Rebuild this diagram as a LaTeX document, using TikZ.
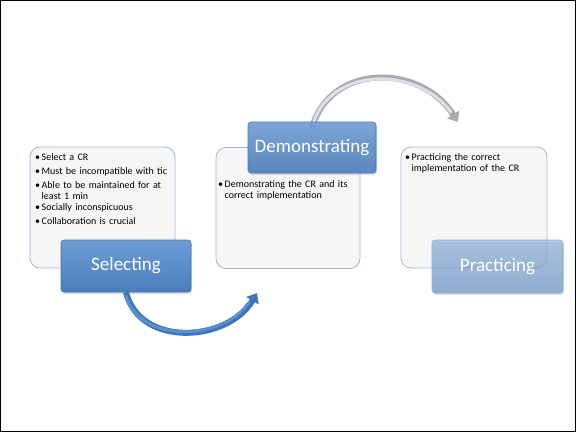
\documentclass[tikz,border=0pt]{standalone}
\usepackage{fontspec}
\setmainfont{Carlito}
\usetikzlibrary{arrows.meta,shadows}
\definecolor{panelline}{HTML}{9DB9DD}
\definecolor{panelfill}{HTML}{F6F6F6}
\definecolor{tabtop}{HTML}{6E9DD4}
\definecolor{tabbot}{HTML}{4A7DBB}
\definecolor{tabline}{HTML}{4675AE}
\definecolor{arrowblue}{HTML}{5A8FD0}
\definecolor{arrowdark}{HTML}{3F74B8}
\definecolor{arrowgray}{HTML}{DDE1E6}
\definecolor{arrowgraydark}{HTML}{A5ABB3}
% one bulleted line block with a hanging indent
\newcommand{\bulletitem}[1]{\par\vskip2.5pt\noindent
  \makebox[6.5pt][l]{\textbullet}\parbox[t]{140pt}{\raggedright #1}}
\tikzset{
  panel/.style={draw=panelline, line width=0.8pt, fill=panelfill, rounded corners=10pt,
    minimum width=#1, minimum height=121pt, inner sep=0pt},
  tab/.style={draw=tabline, line width=0.6pt, rounded corners=3pt, top color=tabtop,
    bottom color=tabbot, text=white, font=\fontsize{19}{22}\selectfont,
    inner sep=0pt, minimum height=52pt,
    drop shadow={shadow xshift=1pt, shadow yshift=-2pt, opacity=0.25}},
  notes/.style={anchor=north west, inner sep=0pt, text width=150pt, align=left,
    font=\fontsize{10}{11.5}\selectfont},
  bluearrow/.style={line width=6pt, arrowdark, -{Triangle[length=9pt,width=14pt]}},
  bluecore/.style={line width=3pt, arrowblue, line cap=round},
  grayarrow/.style={line width=6pt, arrowgraydark, -{Triangle[length=9pt,width=14pt]}},
  graycore/.style={line width=3pt, arrowgray, line cap=round},
}
\begin{document}
\begin{tikzpicture}[x=1pt,y=-1pt]
  \useasboundingbox (0,0) rectangle (576,432);
  \draw[black, line width=1pt] (0.5,0.5) rectangle (575.5,431.5);

  % content panels
  \node[panel=145pt] (p1) at (102.5,207.5) {};
  \node[panel=144pt] (p2) at (288,208) {};
  \node[panel=146pt] (p3) at (474,207.5) {};

  \node[notes] (t1) at (35,146) {%
    \bulletitem{Select a CR}
    \bulletitem{Must be incompatible with tic}
    \bulletitem{Able to be maintained for at\\least 1 min}
    \bulletitem{Socially inconspicuous}
    \bulletitem{Collaboration is crucial}};
  \node[notes] (t2) at (218,173) {%
    \bulletitem{Demonstrating the CR and its\\correct implementation}};
  \node[notes] (t3) at (405,146) {%
    \bulletitem{Practicing the correct\\implementation of the CR}};

  % free ends of the two arrows
  \coordinate (a1end) at (257,293);
  \coordinate (a2end) at (458,122);

  \node[tab, minimum width=130pt] (sel) at (126,266) {Selecting};

  % arrow from Selecting to Demonstrating
  \draw[bluearrow] (sel.south) .. controls (140,348) and (228,342) .. (a1end);
  \draw[bluecore] ([yshift=-4pt]sel.south) .. controls (141,345) and (225,340) .. (249,302);

  % arrow from Demonstrating to Practicing
  \draw[grayarrow] (312,128) .. controls (330,63) and (420,63) .. (a2end);
  \draw[graycore] (313,124) .. controls (331,66) and (417,66) .. (451,112);

  \node[tab, minimum width=128pt, minimum height=51pt, fill opacity=0.88, text opacity=1] (dem) at (312,147.5) {Demonstrating};
  \node[tab, minimum width=131pt, minimum height=53pt, top color=tabtop!75!white,
    bottom color=tabbot!80!white, draw=tabline!70!white, fill opacity=0.7, draw opacity=0.8,
    text opacity=1] (pra) at (497.5,266.5) {Practicing};
\end{tikzpicture}
\end{document}
